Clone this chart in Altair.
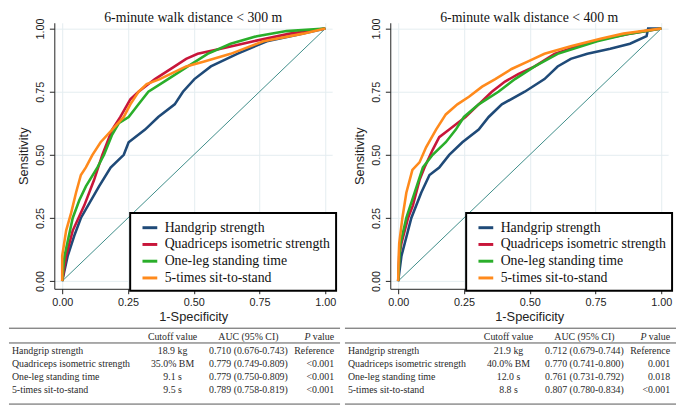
import altair as alt
import pandas as pd

SERIF = "Liberation Serif"
SANS = "Liberation Sans"

measures = ["Handgrip strength", "Quadriceps isometric strength",
            "One-leg standing time", "5-times sit-to-stand"]
colors = ["#1f4a78", "#c8163a", "#2aae2a", "#ff8a1c"]
titles = ["6-minute walk distance < 300 m", "6-minute walk distance < 400 m"]
ticks = [0, 0.25, 0.5, 0.75, 1]
diag_x = [0, 1]
diag_y = [0, 1]

# ---- panel 1 : 6MWD < 300 m ----
hg300_x = [0, 0.021, 0.046, 0.071, 0.14, 0.184, 0.234, 0.2525, 0.315, 0.365, 0.4275, 0.459, 0.5025, 0.565, 0.615, 0.665, 0.7775, 0.89, 1]
hg300_y = [0, 0.10, 0.18, 0.25, 0.375, 0.45, 0.50, 0.55, 0.60, 0.65, 0.70, 0.75, 0.80, 0.85, 0.875, 0.90, 0.95, 0.975, 1]
qi300_x = [0, 0.015, 0.04, 0.084, 0.121, 0.1525, 0.19, 0.221, 0.259, 0.29, 0.3525, 0.4275, 0.471, 0.515, 0.6025, 0.7275, 0.865, 1]
qi300_y = [0, 0.10, 0.20, 0.30, 0.40, 0.50, 0.60, 0.65, 0.72, 0.75, 0.80, 0.85, 0.88, 0.90, 0.92, 0.95, 0.98, 1]
ol300_x = [0, 0.004, 0.009, 0.04, 0.065, 0.09, 0.134, 0.159, 0.19, 0.215, 0.2525, 0.29, 0.3275, 0.4025, 0.4775, 0.5525, 0.64, 0.74, 0.8525, 1]
ol300_y = [0, 0.05, 0.10, 0.25, 0.32, 0.375, 0.45, 0.50, 0.58, 0.625, 0.65, 0.70, 0.75, 0.80, 0.85, 0.90, 0.94, 0.97, 0.99, 1]
st300_x = [0, 0, 0.015, 0.034, 0.0525, 0.071, 0.09, 0.115, 0.146, 0.19, 0.234, 0.259, 0.29, 0.321, 0.371, 0.471, 0.54, 0.64, 0.765, 0.915, 1]
st300_y = [0, 0.10, 0.20, 0.27, 0.35, 0.42, 0.45, 0.50, 0.55, 0.60, 0.65, 0.70, 0.75, 0.78, 0.80, 0.85, 0.87, 0.90, 0.95, 0.98, 1]

# ---- panel 2 : 6MWD < 400 m ----
hg400_x = [0, 0.0125, 0.025, 0.05, 0.0875, 0.119, 0.156, 0.194, 0.244, 0.306, 0.344, 0.394, 0.481, 0.556, 0.606, 0.656, 0.719, 0.806, 0.881, 0.944, 0.95, 1]
hg400_y = [0, 0.10, 0.15, 0.25, 0.35, 0.42, 0.45, 0.50, 0.55, 0.60, 0.65, 0.70, 0.75, 0.80, 0.85, 0.88, 0.90, 0.92, 0.94, 0.97, 1.0, 1]
qi400_x = [0, 0.004, 0.0125, 0.0375, 0.056, 0.081, 0.1, 0.131, 0.156, 0.194, 0.231, 0.256, 0.306, 0.356, 0.406, 0.456, 0.519, 0.594, 0.681, 0.781, 0.881, 1]
qi400_y = [0, 0.10, 0.15, 0.25, 0.30, 0.40, 0.45, 0.52, 0.57, 0.60, 0.63, 0.65, 0.70, 0.75, 0.79, 0.82, 0.85, 0.90, 0.93, 0.96, 0.98, 1]
ol400_x = [0, 0.005, 0.009, 0.031, 0.0625, 0.094, 0.131, 0.181, 0.219, 0.25, 0.306, 0.381, 0.444, 0.519, 0.606, 0.756, 0.881, 1]
ol400_y = [0, 0.10, 0.15, 0.25, 0.35, 0.45, 0.50, 0.55, 0.60, 0.65, 0.70, 0.75, 0.80, 0.85, 0.90, 0.95, 0.98, 1]
st400_x = [0, 0.002, 0.004, 0.016, 0.031, 0.054, 0.081, 0.106, 0.144, 0.181, 0.225, 0.269, 0.319, 0.369, 0.431, 0.494, 0.556, 0.656, 0.769, 0.856, 1]
st400_y = [0, 0.10, 0.15, 0.25, 0.35, 0.44, 0.47, 0.53, 0.60, 0.66, 0.70, 0.73, 0.77, 0.80, 0.84, 0.87, 0.90, 0.93, 0.96, 0.98, 1]

# ---- tables ----
hdr_cutoff = "Cutoff value"
hdr_auc = "AUC (95% CI)"
hdr_p_italic = "P"
hdr_p_rest = "value"
cutoff_300 = ["18.9 kg", "35.0% BM", "9.1 s", "9.5 s"]
auc_300 = ["0.710 (0.676-0.743)", "0.779 (0.749-0.809)", "0.779 (0.750-0.809)", "0.789 (0.758-0.819)"]
p_300 = ["Reference", "<0.001", "<0.001", "<0.001"]
cutoff_400 = ["21.9 kg", "40.0% BM", "12.0 s", "8.8 s"]
auc_400 = ["0.712 (0.679-0.744)", "0.770 (0.741-0.800)", "0.761 (0.731-0.792)", "0.807 (0.780-0.834)"]
p_400 = ["Reference", "0.001", "0.018", "<0.001"]

W, H = 282, 270
XD = [-0.03, 1.026]
YD = [-0.0305, 1.023]
TC = "#2a2a2a"


def panel(title, curves, cutoffs, aucs, ps):
    recs = []
    for m, (xs, ys) in zip(measures, curves):
        for i, (a, b) in enumerate(zip(xs, ys)):
            recs.append({"measure": m, "i": i, "fpr": a, "tpr": b})
    df = pd.DataFrame(recs)

    x = alt.X("fpr:Q", scale=alt.Scale(domain=XD, nice=False, zero=False),
              axis=alt.Axis(values=ticks, format=".2f", title="1-Specificity",
                            labelPadding=3, titlePadding=3))
    y = alt.Y("tpr:Q", scale=alt.Scale(domain=YD, nice=False, zero=False),
              axis=alt.Axis(values=ticks, format=".2f", title="Sensitivity",
                            labelAngle=270, labelAlign="center", labelBaseline="bottom",
                            labelPadding=4, titlePadding=4))

    diag = alt.Chart(pd.DataFrame({"fpr": diag_x, "tpr": diag_y})).mark_line(
        color="#3d8c88", strokeWidth=1).encode(x=x, y=y)

    lines = alt.Chart(df).mark_line(strokeWidth=2.6).encode(
        x=x, y=y,
        color=alt.Color("measure:N",
                        scale=alt.Scale(domain=measures, range=colors),
                        sort=measures,
                        legend=alt.Legend(title=None, orient="none", legendX=77, legendY=H - 77,
                                          direction="vertical", symbolType="stroke",
                                          symbolSize=225, symbolStrokeWidth=3,
                                          labelFont=SERIF, labelFontSize=14, labelColor="#111",
                                          padding=6, symbolOffset=5, labelOffset=6, rowPadding=1,
                                          strokeColor="#000", fillColor="#ffffff",
                                          labelLimit=300)),
        order=alt.Order("i:Q"))

    roc = alt.layer(diag, lines)

    tdf = pd.DataFrame({"row": measures, "cutoff": cutoffs, "auc": aucs, "p": ps})
    ty = alt.Y("row:N", scale=alt.Scale(type="point", domain=measures,
                                        range=[H + 63, H + 102.5], padding=0),
               axis=None)
    base_txt = dict(baseline="middle", font=SERIF, fontSize=10, color=TC)
    t_lab = alt.Chart(tdf).mark_text(align="left", **base_txt).encode(
        x=alt.value(-43), y=ty, text="row:N")
    t_cut = alt.Chart(tdf).mark_text(align="center", **base_txt).encode(
        x=alt.value(120), y=ty, text="cutoff:N")
    t_auc = alt.Chart(tdf).mark_text(align="center", **base_txt).encode(
        x=alt.value(197), y=ty, text="auc:N")
    t_p = alt.Chart(tdf).mark_text(align="right", **base_txt).encode(
        x=alt.value(284), y=ty, text="p:N")
    table = alt.layer(t_lab, t_cut, t_auc, t_p)

    hy = H + 49
    h1 = alt.Chart(pd.DataFrame({"t": [hdr_cutoff]})).mark_text(align="center", **base_txt).encode(
        x=alt.value(120), y=alt.value(hy), text="t:N")
    h2 = alt.Chart(pd.DataFrame({"t": [hdr_auc]})).mark_text(align="center", **base_txt).encode(
        x=alt.value(197), y=alt.value(hy), text="t:N")
    h3 = alt.Chart(pd.DataFrame({"t": [hdr_p_rest]})).mark_text(align="right", **base_txt).encode(
        x=alt.value(284), y=alt.value(hy), text="t:N")
    h4 = alt.Chart(pd.DataFrame({"t": [hdr_p_italic]})).mark_text(align="right", fontStyle="italic", **base_txt).encode(
        x=alt.value(260), y=alt.value(hy), text="t:N")

    rule_df = pd.DataFrame({"k": [0]})
    rules = [
        alt.Chart(rule_df).mark_rule(color="#555", strokeWidth=1).encode(
            x=alt.value(-46), x2=alt.value(290), y=alt.value(yy))
        for yy in (H + 40, H + 55, H + 117)
    ]

    return alt.layer(roc, table, h1, h2, h3, h4, *rules).resolve_scale(
        y="independent").properties(
        width=W, height=H,
        title=alt.TitleParams(title, font=SERIF, fontSize=14, fontWeight="normal",
                              anchor="middle", offset=-7, color="#111"))


left = panel(titles[0],
             [(hg300_x, hg300_y), (qi300_x, qi300_y), (ol300_x, ol300_y), (st300_x, st300_y)],
             cutoff_300, auc_300, p_300)
right = panel(titles[1],
              [(hg400_x, hg400_y), (qi400_x, qi400_y), (ol400_x, ol400_y), (st400_x, st400_y)],
              cutoff_400, auc_400, p_400)

chart = alt.hconcat(left, right, spacing=3).resolve_scale(color="independent").configure(
    padding=0, background="white"
).configure_view(strokeWidth=0).configure_axis(
    domainColor="#222", tickColor="#222", labelColor="#222", titleColor="#222",
    gridColor="#e4edf0", labelFont=SANS, labelFontSize=11, titleFont=SANS,
    titleFontSize=13, titleFontWeight="normal", tickSize=5, domainWidth=1
).configure_legend(strokeWidth=2)

chart.save("out.html", embed_options={"renderer": "svg", "actions": False})
